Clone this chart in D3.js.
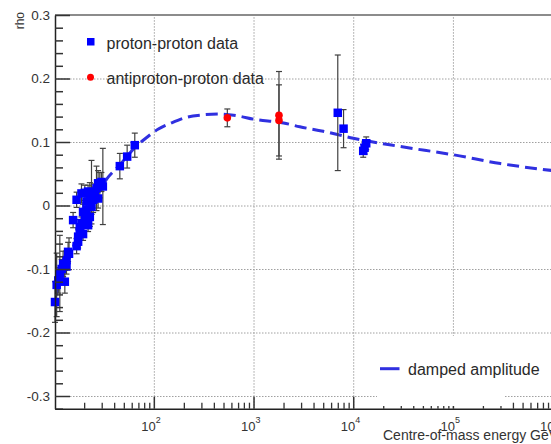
<!DOCTYPE html>
<html>
<head>
<meta charset="utf-8">
<script src="https://cdn.jsdelivr.net/npm/d3@7"></script>
<style>
  body { margin: 0; background: #fff; }
  svg { display: block; font-family: "Liberation Sans", Arial, Helvetica, sans-serif; }
</style>
</head>
<body>
<svg id="chart" width="551" height="444"></svg>
<script>
// proton-proton measurements: centre-of-mass energy (GeV), rho, error
const ppEnergy = [10.2, 10.6, 11.0, 11.4, 11.9, 12.3, 12.8, 13.3, 13.3, 13.8, 14.1, 15.5,
  16.8, 16.8, 17.4, 17.4, 18.1, 18.1, 18.8, 18.8, 19.5, 19.5, 20.3, 20.3, 21.1, 21.1,
  21.9, 21.9, 22.8, 22.8, 23.7, 23.7, 24.6, 25.6, 26.6, 27.6, 27.6, 28.7, 29.8, 30.8,
  45.6, 54.0, 64.4, 7000, 8000, 13500, 13000, 12600];
const ppRho = [-0.152, -0.125, -0.118, -0.107, -0.100, -0.092, -0.120, -0.096, -0.086, -0.073, -0.076, -0.023,
  -0.064, 0.009, -0.049, -0.057, -0.041, -0.034, -0.028, 0.019, -0.010, -0.045, -0.020, 0.020, -0.007, 0.006,
  -0.031, 0.022, -0.018, 0.016, -0.002, 0.021, 0.009, 0.019, 0.027, 0.011, 0.035, 0.032, 0.037, 0.030,
  0.062, 0.077, 0.095, 0.146, 0.121, 0.098, 0.091, 0.086];
const ppErr = [0.032, 0.05, 0.02, 0.06, 0.015, 0.02, 0.018, 0.012, 0.015, 0.015, 0.025, 0.012,
  0.012, 0.012, 0.012, 0.01, 0.01, 0.012, 0.01, 0.015, 0.012, 0.01, 0.01, 0.012, 0.015, 0.01,
  0.01, 0.01, 0.015, 0.02, 0.012, 0.05, 0.02, 0.015, 0.035, 0.015, 0.02, 0.02, 0.015, 0.06,
  0.02, 0.018, 0.019, 0.091, 0.03, 0.01, 0.01, 0.01];

// antiproton-proton measurements
const pbarpEnergy = [546, 1800, 1800];
const pbarpRho = [0.138, 0.142, 0.134];
const pbarpErr = [0.014, 0.069, 0.056];

// damped amplitude model
const modelEnergy = [10.2, 13, 16, 20, 25, 30, 35, 45, 55, 65, 80, 110, 150, 214, 300, 458,
  700, 1000, 2000, 2911, 5000, 1e4, 2.93e4, 1e5, 3e5, 1e6];
const modelRho = [-0.145, -0.1, -0.06, -0.022, 0.01, 0.03, 0.045, 0.063, 0.079, 0.092, 0.104, 0.12,
  0.13, 0.139, 0.1425, 0.144, 0.141, 0.136, 0.13, 0.124, 0.117, 0.106, 0.093, 0.08, 0.066, 0.055];

// axis ticks
const yMajor = [-0.3, -0.2, -0.1, 0, 0.1, 0.2, 0.3];
const yLabels = ["-0.3", "-0.2", "-0.1", "0", "0.1", "0.2", "0.3"];
const xDecades = [2, 3, 4, 5, 6];

(function draw() {
  const svg = d3.select("#chart");
  const padL = 55, padT = 15, padB = 408.7, padR = 552.6;
  const W = 551;

  const x = d3.scaleLog().domain([10.2, 1e6]).range([padL, padR]);
  const y = d3.scaleLinear().domain([-0.32, 0.3]).range([padB, padT]);

  const yMinor = d3.range(-32, 31, 2).map(v => v / 100)
    .filter(v => !yMajor.some(m => Math.abs(m - v) < 1e-9));
  const xMajor = xDecades.map(e => Math.pow(10, e));
  const xMinor = [];
  for (let e = 1; e <= 6; e++) for (let m = 2; m <= 9; m++) {
    const v = m * Math.pow(10, e);
    if (v > 10.2 && v < 1e6) xMinor.push(v);
  }

  svg.append("defs").append("clipPath").attr("id", "plot")
    .append("rect").attr("x", padL).attr("y", padT).attr("width", padR - padL).attr("height", padB - padT);

  // grid
  const gridStyle = g => g.call(s => s.select(".domain").remove())
    .selectAll("line").attr("stroke", "#a0a0a0").attr("stroke-width", 1).attr("stroke-dasharray", "1.5,1.5");
  svg.append("g").attr("transform", `translate(0,${padB})`)
    .call(d3.axisBottom(x).tickValues(xMajor.slice(0, 4)).tickSize(-(padB - padT)).tickFormat(""))
    .call(gridStyle);
  svg.append("g").attr("transform", `translate(${padL},0)`)
    .call(d3.axisLeft(y).tickValues(yMajor.slice(0, 6)).tickSize(-(padR - padL)).tickFormat(""))
    .call(gridStyle);

  const plot = svg.append("g").attr("clip-path", "url(#plot)");
  const marks = svg.append("g");

  // model curve
  const modelPts = modelEnergy.map((e, i) => [e, modelRho[i]]);
  plot.append("path")
    .datum(modelPts)
    .attr("fill", "none")
    .attr("stroke", "#3030e0")
    .attr("stroke-width", 3)
    .attr("stroke-dasharray", "12,6")
    .attr("d", d3.line().x(d => x(d[0])).y(d => y(d[1])).curve(d3.curveMonotoneX));

  // error bars
  function errorBars(E, R, Er) {
    const g = marks.append("g").attr("stroke", "#404040").attr("stroke-width", 1.2);
    E.forEach((e, i) => {
      const cx = x(e), y1 = y(R[i] + Er[i]), y2 = y(R[i] - Er[i]);
      g.append("line").attr("x1", cx).attr("x2", cx).attr("y1", y1).attr("y2", y2);
      g.append("line").attr("x1", cx - 3).attr("x2", cx + 3).attr("y1", y1).attr("y2", y1);
      g.append("line").attr("x1", cx - 3).attr("x2", cx + 3).attr("y1", y2).attr("y2", y2);
    });
  }
  errorBars(ppEnergy, ppRho, ppErr);
  errorBars(pbarpEnergy, pbarpRho, pbarpErr);

  // markers
  const sq = 8.5;
  marks.append("g").selectAll("rect").data(ppEnergy).join("rect")
    .attr("x", e => x(e) - sq / 2)
    .attr("y", (e, i) => y(ppRho[i]) - sq / 2)
    .attr("width", sq).attr("height", sq)
    .attr("fill", "#0000ff");
  marks.append("g").selectAll("circle").data(pbarpEnergy).join("circle")
    .attr("cx", e => x(e))
    .attr("cy", (e, i) => y(pbarpRho[i]))
    .attr("r", 3.8)
    .attr("fill", "#ff0000");

  // frame top
  svg.append("line").attr("x1", padL).attr("x2", W).attr("y1", padT).attr("y2", padT)
    .attr("stroke", "#8c8c8c").attr("stroke-width", 2);

  // y axis
  const axisStyle = g => {
    g.select(".domain").attr("stroke", "#222").attr("stroke-width", 1.5);
    g.selectAll(".tick line").attr("stroke", "#333").attr("stroke-width", 1.5);
  };
  const yAxis = svg.append("g").attr("transform", `translate(${padL},0)`)
    .call(d3.axisLeft(y).tickValues(yMajor).tickSizeInner(-15).tickSizeOuter(0).tickPadding(5)
      .tickFormat((d, i) => yLabels[i]))
    .call(axisStyle);
  yAxis.selectAll(".tick text").attr("font-size", 13.5).attr("fill", "#333")
    .attr("font-family", "'Liberation Sans', Arial, sans-serif");
  svg.append("g").attr("transform", `translate(${padL},0)`)
    .call(d3.axisLeft(y).tickValues(yMinor).tickSizeInner(-8).tickSizeOuter(0).tickFormat(""))
    .call(g => g.select(".domain").remove())
    .selectAll(".tick line").attr("stroke", "#333").attr("stroke-width", 1.5);

  // x axis
  const xAxis = svg.append("g").attr("transform", `translate(0,${padB})`)
    .call(d3.axisBottom(x).tickValues(xMajor).tickSizeInner(-12).tickSizeOuter(0).tickPadding(13).tickFormat(() => ""))
    .call(axisStyle);
  xAxis.selectAll(".tick text").each(function (d, i) {
    const t = d3.select(this)
      .attr("text-anchor", "start").attr("x", -13).attr("dy", "0.71em")
      .attr("font-size", 13).attr("fill", "#333")
      .attr("font-family", "'Liberation Sans', Arial, sans-serif");
    t.text("10");
    t.append("tspan").attr("dy", -8).attr("font-size", 9).text(xDecades[i]);
  });
  svg.append("g").attr("transform", `translate(0,${padB})`)
    .call(d3.axisBottom(x).tickValues(xMinor).tickSizeInner(-6).tickSizeOuter(0).tickFormat(""))
    .call(g => g.select(".domain").remove())
    .selectAll(".tick line").attr("stroke", "#333").attr("stroke-width", 1.3);

  // axis titles
  svg.append("text").attr("transform", "translate(24,12) rotate(-90)")
    .attr("text-anchor", "end").attr("font-size", 12).attr("fill", "#333").text("rho");
  svg.append("text").attr("x", 383).attr("y", 440)
    .attr("font-size", 14).attr("fill", "#333").text("Centre-of-mass energy GeV");

  // top legend
  svg.append("rect").attr("x", 87).attr("y", 38).attr("width", 7.5).attr("height", 7.5).attr("fill", "#0000ff");
  svg.append("circle").attr("cx", 90.5).attr("cy", 77.3).attr("r", 3.5).attr("fill", "#ff0000");
  svg.append("text").attr("x", 106.5).attr("y", 48.5).attr("font-size", 16).attr("fill", "#2a2a2a").text("proton-proton data");
  svg.append("text").attr("x", 106.5).attr("y", 83.5).attr("font-size", 16).attr("fill", "#2a2a2a").text("antiproton-proton data");

  // bottom legend
  svg.append("rect").attr("x", 377).attr("y", 336).attr("width", 128).attr("height", 70).attr("fill", "#fff");
  svg.append("line").attr("x1", 380).attr("x2", 399.5).attr("y1", 368.7).attr("y2", 368.7)
    .attr("stroke", "#3030e0").attr("stroke-width", 3);
  svg.append("text").attr("x", 408).attr("y", 375).attr("font-size", 16).attr("fill", "#2a2a2a").text("damped amplitude");
})();
</script>
</body>
</html>
